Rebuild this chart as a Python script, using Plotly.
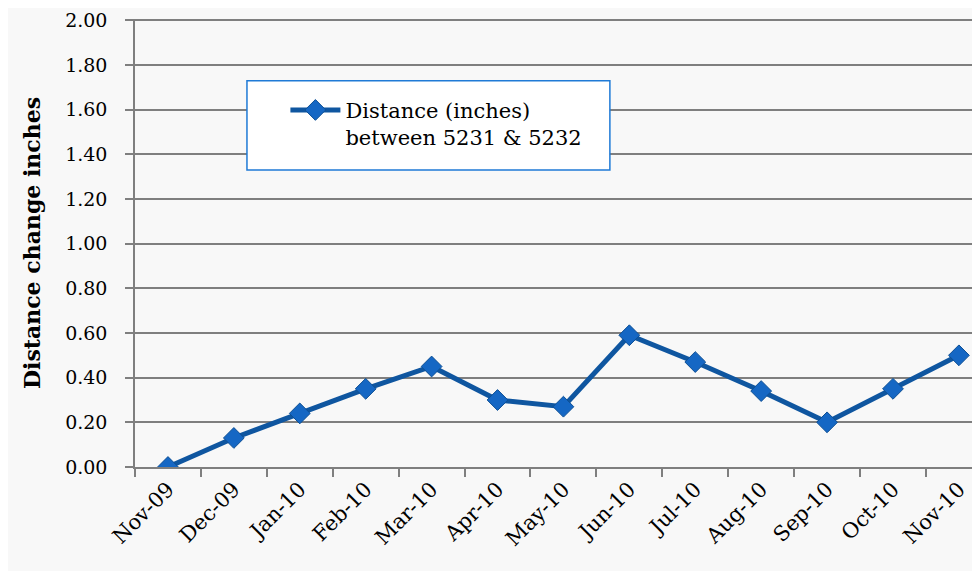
"Distance change between 5231 & 5232."

import plotly.graph_objects as go

months = ["Nov-09", "Dec-09", "Jan-10", "Feb-10", "Mar-10", "Apr-10", "May-10",
          "Jun-10", "Jul-10", "Aug-10", "Sep-10", "Oct-10", "Nov-10"]
distance = [0.00, 0.13, 0.24, 0.35, 0.45, 0.30, 0.27, 0.59, 0.47, 0.34, 0.20, 0.35, 0.50]
y_ticks = [0.0, 0.2, 0.4, 0.6, 0.8, 1.0, 1.2, 1.4, 1.6, 1.8, 2.0]

serif = "DejaVu Serif"
grid = "#7f7f7f"

fig = go.Figure()
fig.add_trace(go.Scatter(
    x=months,
    y=distance,
    mode="lines+markers",
    name="Distance (inches)<br>between 5231 & 5232",
    line=dict(color="#0f56a0", width=5),
    marker=dict(symbol="diamond", size=16, color="#1567c4",
                line=dict(color="#0d4f94", width=1)),
))

# legend box
fig.add_shape(type="rect", xref="paper", yref="paper",
              x0=0.1325, x1=0.562, y0=0.663, y1=0.862,
              fillcolor="white", line=dict(color="#1f7ad6", width=1.5), layer="above")

# page body adds an 8px offset, margins compensate for it
fig.update_layout(
    width=980,
    height=571,
    margin=dict(l=127, r=8, t=11, b=112),
    paper_bgcolor="#f8f8f8",
    plot_bgcolor="#f8f8f8",
    font=dict(family=serif, size=18, color="black"),
    showlegend=True,
    legend=dict(x=0.178, y=0.842, xanchor="left", yanchor="top",
                bgcolor="rgba(0,0,0,0)", borderwidth=0, valign="top",
                font=dict(family=serif, size=21), itemwidth=50),
    xaxis=dict(
        type="category",
        range=[-0.5, 12.32],
        automargin=False,
        tickangle=-45,
        ticks="outside",
        tickson="boundaries",
        ticklen=8,
        tickcolor=grid,
        tickwidth=1.5,
        showgrid=False,
        showline=True,
        linecolor=grid,
        linewidth=1.5,
        tickfont=dict(family=serif, size=21),
    ),
    yaxis=dict(
        range=[0, 2.006],
        automargin=False,
        tickvals=y_ticks,
        tickformat=".2f",
        ticks="outside",
        ticklen=8,
        tickcolor=grid,
        tickwidth=1.5,
        ticklabelstandoff=14,
        ticklabeloverflow="allow",
        showgrid=True,
        gridcolor=grid,
        gridwidth=1.5,
        showline=True,
        linecolor=grid,
        linewidth=1.5,
        zeroline=False,
        tickfont=dict(family=serif, size=19),
        title=dict(text="<b>Distance change inches</b>",
                   font=dict(family=serif, size=22), standoff=18),
    ),
)

fig.write_html("out.html")
